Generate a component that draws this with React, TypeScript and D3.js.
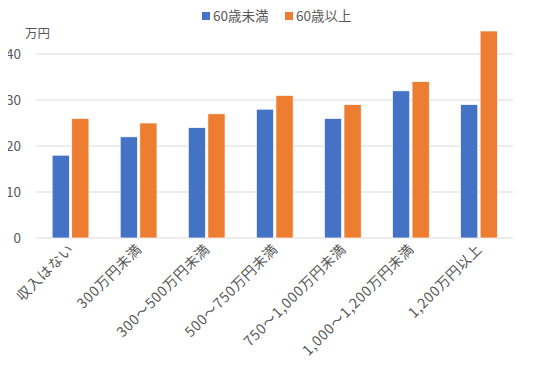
import * as d3 from 'd3'

const categories = ['収入はない', '300万円未満', '300～500万円未満', '500～750万円未満', '750～1,000万円未満', '1,000～1,200万円未満', '1,200万円以上']
const under60 = [18, 22, 24, 28, 26, 32, 29]
const over60 = [26, 25, 27, 31, 29, 34, 45]
const seriesNames = ['60歳未満', '60歳以上']
const colors = ['#4472C4', '#ED7D31']
const yTicks = [0, 10, 20, 30, 40]

export default function App(){
  const width = 550, height = 367
  const left = 36.5, right = 513, bottom = 238
  const font = '"Noto Sans CJK JP", "Noto Sans", sans-serif'
  const text = '#595959'

  const x = d3.scaleBand<string>().domain(categories).range([left, right]).paddingInner(0.46).paddingOuter(0.23)
  const inner = d3.scaleBand<number>().domain([0, 1]).range([0, x.bandwidth()]).paddingInner(0.12)
  const y = d3.scaleLinear().domain([0, 40]).range([bottom, bottom - 184])

  const series = [under60, over60]

  return (
    <div style={{ margin: -8 }}>
      <svg width={width} height={height} style={{ display: 'block', background: '#fff', fontFamily: font }}>
        {yTicks.map(t => (
          <g key={t}>
            <line x1={left} x2={right} y1={y(t)} y2={y(t)} stroke="#d9d9d9" strokeWidth={1} />
            <text x={21} y={y(t)} dy="0.35em" textAnchor="end" fontSize={13.5} fill={text}>{t}</text>
          </g>
        ))}
        <text x={25} y={37.5} fontSize={12.5} fill={text}>万円</text>

        {series.map((vals, si) => (
          <g key={si}>
            {vals.map((v, i) => (
              <rect key={i}
                x={(x(categories[i]) ?? 0) + (inner(si) ?? 0)}
                y={y(v)}
                width={inner.bandwidth()}
                height={y(0) - y(v)}
                fill={colors[si]}
                stroke="#fff" strokeWidth={0.7} />
            ))}
          </g>
        ))}

        {categories.map(c => {
          const cx = (x(c) ?? 0) + x.bandwidth() / 2 + 4
          return (
            <text key={c} transform={`translate(${cx},250) rotate(-45)`} textAnchor="end" fontSize={14} letterSpacing={0.7} fill={text}>{c}</text>
          )
        })}

        {seriesNames.map((n, i) => {
          const lx = i === 0 ? 202 : 285
          return (
            <g key={n}>
              <rect x={lx} y={12} width={8} height={8} fill={colors[i]} />
              <text x={lx + 11} y={16} dy="0.35em" fontSize={13.5} fill={text}>{n}</text>
            </g>
          )
        })}
      </svg>
    </div>
  )
}
